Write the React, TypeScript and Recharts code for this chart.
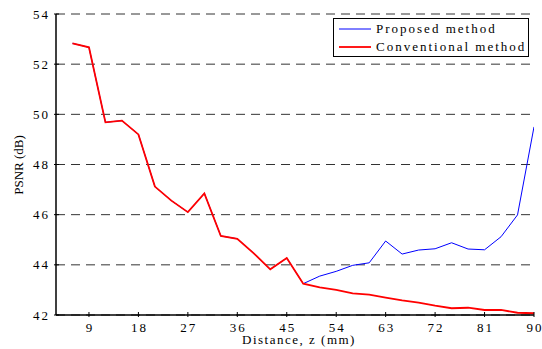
import React from 'react';
import {
  LineChart, Line, XAxis, YAxis, CartesianGrid, Legend,
} from 'recharts';

/* ─── Data ────────────────────────────────────────────────────────────────── */

const distance = [6, 9, 12, 15, 18, 21, 24, 27, 30, 33, 36, 39, 42, 45, 48,
  51, 54, 57, 60, 63, 66, 69, 72, 75, 78, 81, 84, 87, 90];

const conventional = [52.83, 52.67, 49.68, 49.75, 49.2, 47.12, 46.56, 46.1, 46.85,
  45.15, 45.04, 44.46, 43.82, 44.27, 43.25, 43.1, 43.0, 42.86, 42.81, 42.69,
  42.58, 42.49, 42.37, 42.27, 42.29, 42.2, 42.2, 42.09, 42.07];

const proposed = [52.83, 52.67, 49.68, 49.75, 49.2, 47.12, 46.56, 46.1, 46.85,
  45.15, 45.04, 44.46, 43.82, 44.27, 43.25, 43.55, 43.74, 43.98, 44.08, 44.95,
  44.43, 44.59, 44.64, 44.88, 44.63, 44.6, 45.12, 45.99, 49.5];

const seriesNames = ['Proposed method', 'Conventional method'];
const xTicks = [9, 18, 27, 36, 45, 54, 63, 72, 81, 90];
const yTicks = [42, 44, 46, 48, 50, 52, 54];

const data = distance.map((z, i) => ({ z, proposed: proposed[i], conventional: conventional[i] }));

/* ─── Styles ──────────────────────────────────────────────────────────────── */

const FONT = '"Liberation Serif", "Times New Roman", serif';
const TICK_LEN = 5;

/* ─── Custom ticks (MATLAB style, pointing inward) ───────────────────────── */

function BottomTick({ x, y, payload }: any) {
  return (
    <g>
      <line x1={x} x2={x} y1={y} y2={y - TICK_LEN} stroke="#000" />
      <text x={x + 1} y={y + 14.5} textAnchor="middle" fontFamily={FONT} fontSize={13}
        letterSpacing={2} fill="#000">{payload.value}</text>
    </g>
  );
}

function LeftTick({ x, y, payload }: any) {
  return (
    <g>
      <line x1={x} x2={x + TICK_LEN} y1={y} y2={y} stroke="#000" />
      <text x={x - 4} y={y + 4.5} textAnchor="end" fontFamily={FONT} fontSize={13}
        letterSpacing={2} fill="#000">{payload.value}</text>
    </g>
  );
}

function TopTick({ x, y }: any) {
  return <line x1={x} x2={x} y1={y} y2={y + TICK_LEN} stroke="#000" />;
}

function RightTick({ x, y }: any) {
  return <line x1={x} x2={x - TICK_LEN} y1={y} y2={y} stroke="#000" />;
}

/* ─── Legend box ──────────────────────────────────────────────────────────── */

function LegendBox({ payload }: any) {
  const items = (payload || []).slice()
    .sort((a: any, b: any) => seriesNames.indexOf(a.value) - seriesNames.indexOf(b.value));
  return (
    <div style={{
      boxSizing: 'border-box', width: 196, height: 39, border: '1.5px solid #000',
      background: '#fff', paddingTop: 1,
    }}>
      {items.map((p: any) => (
        <div key={p.value} style={{ display: 'flex', alignItems: 'center', height: 18 }}>
          <svg width={42} height={18} style={{ flex: 'none' }}>
            <line x1={5} x2={37} y1={9} y2={9} stroke={p.color}
              strokeWidth={p.value === 'Conventional method' ? 1.8 : 1} />
          </svg>
          <span style={{ fontFamily: FONT, fontSize: 13, letterSpacing: 2, color: '#000', whiteSpace: 'nowrap' }}>
            {p.value}
          </span>
        </div>
      ))}
    </div>
  );
}

function YLabel({ viewBox }: any) {
  const cx = viewBox.x + 18;
  const cy = 165;
  return (
    <text x={cx} y={cy} transform={`rotate(-90, ${cx}, ${cy})`} textAnchor="middle"
      dominantBaseline="central" fontFamily={FONT} fontSize={13} fill="#000">
      PSNR (dB)
    </text>
  );
}

function XLabel({ viewBox }: any) {
  const cx = viewBox.x + viewBox.width / 2 + 4;
  return (
    <text x={cx} y={344} textAnchor="middle" fontFamily={FONT} fontSize={13}
      letterSpacing={1.5} fill="#000">
      Distance, z (mm)
    </text>
  );
}

/* ─── Chart ───────────────────────────────────────────────────────────────── */

export default function App() {
  return (
    <div style={{ position: 'absolute', left: 0, top: 0, width: 542, height: 349, background: '#fff' }}>
      <LineChart width={542} height={349} data={data}
        margin={{ top: 14, right: 8, left: 0, bottom: 0 }}>
        <CartesianGrid vertical={false} stroke="#333" strokeDasharray="9 6" />
        <XAxis dataKey="z" type="number" domain={[3, 90]} ticks={xTicks} height={34}
          axisLine={{ stroke: '#000', strokeWidth: 1.5 }} tickLine={false} tickSize={0}
          tick={<BottomTick />} interval={0} allowDataOverflow
          label={{ content: <XLabel /> }} />
        <XAxis xAxisId="top" orientation="top" dataKey="z" type="number" domain={[3, 90]}
          ticks={xTicks} height={0} axisLine={{ stroke: '#000', strokeWidth: 1.5 }}
          tickLine={false} tickSize={0} tick={<TopTick />} interval={0} allowDataOverflow />
        <YAxis type="number" domain={[42, 54]} ticks={yTicks} width={56}
          axisLine={{ stroke: '#000', strokeWidth: 1.5 }} tickLine={false} tickSize={0}
          tick={<LeftTick />} interval={0} allowDataOverflow
          label={{ content: <YLabel /> }} />
        <YAxis yAxisId="right" orientation="right" type="number" domain={[42, 54]} ticks={yTicks}
          width={0} axisLine={{ stroke: '#000', strokeWidth: 1.5 }} tickLine={false} tickSize={0}
          tick={<RightTick />} interval={0} allowDataOverflow />
        <Legend layout="vertical" align="center" verticalAlign="middle"
          wrapperStyle={{ left: 333, top: 18, width: 196, height: 39 }}
          content={<LegendBox />} />
        <Line type="linear" dataKey="proposed" name="Proposed method" stroke="#0000ff"
          strokeWidth={1} dot={false} isAnimationActive={false} />
        <Line type="linear" dataKey="conventional" name="Conventional method" stroke="#ff0000"
          strokeWidth={1.8} dot={false} isAnimationActive={false} />
      </LineChart>
    </div>
  );
}
